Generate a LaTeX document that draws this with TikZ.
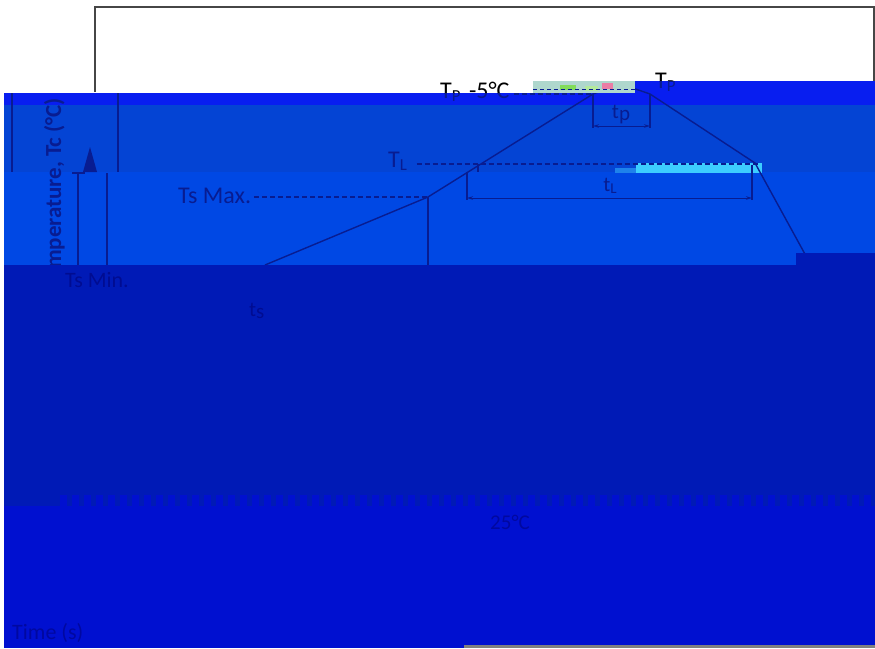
\documentclass[tikz,border=0pt]{standalone}
\usepackage{fontspec}
\setmainfont{Carlito}
\usetikzlibrary{arrows.meta}
\definecolor{frame}{RGB}{70,70,70}
\definecolor{ink}{RGB}{8,28,145}
\definecolor{bandA}{RGB}{8,30,240}
\definecolor{bandB}{RGB}{4,68,212}
\definecolor{bandC}{RGB}{0,72,228}
\definecolor{bandD}{RGB}{0,26,182}
\definecolor{bandE}{RGB}{0,16,208}
\definecolor{ghostD}{RGB}{0,12,145}
\definecolor{ghostE}{RGB}{0,8,160}
\definecolor{cyanpatch}{RGB}{60,205,255}
\definecolor{cyandark}{RGB}{30,130,235}
\definecolor{noise}{RGB}{175,215,205}
\definecolor{noisepink}{RGB}{235,125,165}
\definecolor{noisegreen}{RGB}{130,220,90}
\definecolor{bargray}{RGB}{128,128,128}
\tikzset{
  profile/.style={ink, line width=1.4pt},
  extline/.style={ink, line width=1.1pt},
  dimline/.style={ink, line width=1pt, {Stealth[length=6pt,width=3.5pt]}-{Stealth[length=6pt,width=3.5pt]}},
  leader/.style={ink, line width=1.4pt, dash pattern=on 5pt off 3pt},
  lbl/.style={inner sep=0pt, font=\fontsize{24}{28}\selectfont},
  smalllbl/.style={inner sep=0pt, ink, font=\fontsize{21}{25}\selectfont},
  ghost/.style={inner sep=0pt},
}
\begin{document}
\begin{tikzpicture}[x=1pt,y=-1pt]
\useasboundingbox (0,0) rectangle (875,648);
\fill[white] (0,0) rectangle (875,648);

% background bands (light)
\fill[bandA] (635,81) rectangle (875,93);
\fill[bandA] (4,93) rectangle (875,105);
\fill[bandB] (4,105) rectangle (875,172);
\fill[bandC] (4,172) rectangle (875,265);
\fill[cyanpatch] (636,163) rectangle (762,173);
\fill[cyandark] (615,168) rectangle (636,173);

% frame (visible parts)
\draw[frame, line width=1.5pt] (95,92) -- (95,7) -- (874,7) -- (874,81);

% profile points
\coordinate (smin) at (265,265);
\coordinate (smax) at (428,197);
\coordinate (p1) at (593,94);
\coordinate (pk) at (621,84);
\coordinate (p2) at (650,94);
\coordinate (d1) at (755,163);
\coordinate (d2) at (806,256);
\coordinate (tlend) at (760,164);

% labels crossing the white/blue edge
\begin{scope}
  \clip (0,0) rectangle (875,93);
  \node[lbl, black, anchor=base west] (tp5) at (440,98) {T\textsubscript{P}\,\,-5°C};
\end{scope}
\begin{scope}
  \clip (0,93) rectangle (875,120);
  \node[lbl, ink, anchor=base west] (tp5b) at (440,98) {T\textsubscript{P}\,\,-5°C};
\end{scope}
\begin{scope}
  \clip (0,0) rectangle (875,81);
  \node[lbl, black, anchor=base west] (tpk) at (655,88) {T\textsubscript{P}};
\end{scope}
\begin{scope}
  \clip (0,81) rectangle (875,120);
  \node[lbl, ink, anchor=base west] (tpkb) at (655,88) {T\textsubscript{P}};
\end{scope}

\node[lbl, ink, anchor=base west] (tl) at (388,167) {T\textsubscript{L}};
\node[lbl, ink, anchor=base west] (tsmax) at (178,203) {Ts Max.};
\node[inner sep=0pt, ink, rotate=90, anchor=base west,
      font=\bfseries\fontsize{23}{27}\selectfont] (ylab) at (61,290) {Temperature, Tc (°C)};

% profile
\draw[profile] (smin) -- (smax) -- (p1) -- (pk) -- (p2) -- (d1) -- (d2);

% leaders
\draw[leader] ([xshift=4pt]tp5.east |- p1) -- (p1);
\draw[leader] ([xshift=9pt]tl.east |- tlend) -- (tlend);
\draw[leader] ([xshift=3pt]tsmax.east |- smax) -- (smax);

% tp dimension
\coordinate (tpa) at (593,128);
\coordinate (tpb) at (650,128);
\draw[extline] (p1) -- (tpa);
\draw[extline] (p2) -- (tpb);
\draw[dimline] (593,126) -- (650,126);
\node[smalllbl] (tplab) at (621,115) {t\raisebox{-2pt}{p}};

% tL dimension
\draw[extline] (478,164) -- (478,172);
\draw[extline] (467,172) -- (467,200);
\draw[extline] (752,165) -- (752,200);
\draw[dimline] (467,198) -- (752,198);
\node[smalllbl] (tllab) at (610,186) {t\raisebox{-2pt}{\fontsize{15}{18}\selectfont L}};

% ts extension
\draw[extline] (smax) -- (428,265);

% axis fragments
\fill[ink] (83,172) -- (97,172) -- (90,147) -- cycle;
\draw[extline] (12,93) -- (12,172);
\draw[extline] (118,93) -- (118,172);
\draw[extline] (78,173) -- (78,265);
\draw[extline] (107,173) -- (107,265);
\draw[extline] (72,173) -- (85,173);

% noise strip over the peak
\fill[noise] (533,81) rectangle (635,93);
\fill[noisepink] (602,83) rectangle (613,89);
\fill[noisegreen] (560,85) rectangle (576,90);
\fill[noisegreen!60!white] (585,86) rectangle (598,91);
\draw[ink, line width=1pt, dash pattern=on 4pt off 3pt] (533,89) -- (635,89);

% opaque dark bands
\fill[bandD] (4,265) -- (796,265) -- (796,253) -- (875,253) -- (875,495) -- (4,495) -- cycle;
\fill[bandE] (4,495) rectangle (875,648);
\fill[bandD] (4,495) rectangle (55,506);
\draw[bandD, line width=11pt, dash pattern=on 5pt off 7pt] (55,500.5) -- (875,500.5);

% ghost texts
\node[ghost, ghostD, anchor=base west, font=\fontsize{22}{26}\selectfont] (tsmin) at (65,287) {Ts Min.};
\node[ghost, ghostD, anchor=base west, font=\fontsize{21}{25}\selectfont] (tslab) at (249,316) {t\raisebox{-2pt}{s}};
\node[ghost, ghostE, anchor=base west, font=\fontsize{21}{25}\selectfont] (t25) at (490,529) {25°C};
\node[ghost, ghostE, anchor=base west, font=\fontsize{22}{26}\selectfont] (xlab) at (12,639) {Time (s)};

% bottom frame remnant
\fill[bargray] (464,645) rectangle (875,648);
\end{tikzpicture}
\end{document}
